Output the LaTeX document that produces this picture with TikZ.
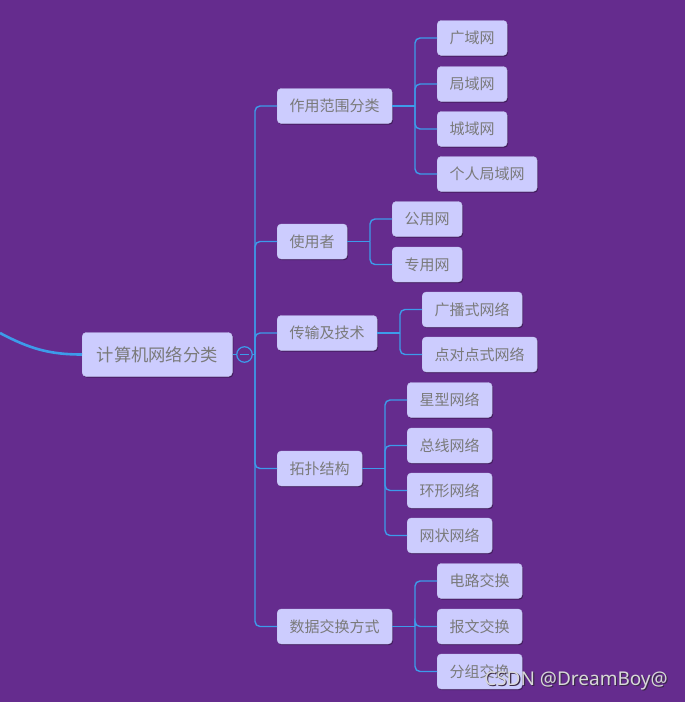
\documentclass[tikz,border=0pt]{standalone}
\usepackage{fontspec}
\newfontfamily\cjk{Noto Sans CJK SC}
\newfontfamily\marksans{Noto Sans}
\usepackage{xcolor}
\usepackage{tikz}
\usetikzlibrary{positioning, shadows, calc}
\definecolor{mapbg}{HTML}{652C8E}
\definecolor{topicfill}{HTML}{CCCCFE}
\definecolor{topictext}{HTML}{7A7A7A}
\definecolor{linkblue}{HTML}{3D9BEA}
\definecolor{markgray}{HTML}{D8D8D8}
\definecolor{markshade}{HTML}{3A2A48}
\newcommand{\shadedmark}[1]{\makebox[0pt][l]{\kern1.2pt\raisebox{-1.2pt}{\textcolor{markshade}{#1}}}#1}

\begin{document}
\begin{tikzpicture}[x=1pt, y=-1pt,
    topic/.style={draw=topicfill!85!gray, fill=topicfill, rounded corners=4pt,
                  text=topictext, anchor=west, inner xsep=12.5pt, inner ysep=0pt,
                  minimum height=35pt, font=\cjk\fontsize{15}{18}\selectfont,
                  drop shadow={shadow xshift=1pt, shadow yshift=-1.2pt, fill=black, opacity=0.35}},
    root/.style={topic, inner xsep=14.5pt, minimum height=44pt,
                 font=\cjk\fontsize{17.3}{20}\selectfont},
    link/.style={draw=linkblue, line width=1.4pt, rounded corners=5pt},
    mainlink/.style={draw=linkblue, line width=2.6pt},
    fold/.style={draw=linkblue, line width=1.2pt, fill=mapbg, circle, minimum size=15.5pt, inner sep=0pt},
]
% canvas
\fill[mapbg] (0,0) rectangle (685,702);
\useasboundingbox (0,0) rectangle (685,702);

% Root and the fold button
\node[root] (root) at (82,354.5) {计算机网络分类};
\node[fold] (fold) at (244.5,354.5) {};
\draw[linkblue, line width=1.2pt] ($(fold.center)+(-4.5,0)$) -- ($(fold.center)+(4.5,0)$);
\coordinate (outer) at (0,333);
\draw[mainlink] (outer) .. controls (30,349) and (50,354.5) .. (root.west);
\draw[link] (root.east) -- (fold.west);

% First level
\node[topic] (scope) at (277,106) {作用范围分类};
\node[topic] (users) at (277,241.5) {使用者};
\node[topic] (trans) at (277,333) {传输及技术};
\node[topic] (topo)  at (277,468.5) {拓扑结构};
\node[topic] (swit)  at (277,626.5) {数据交换方式};

\coordinate (trunk) at (255,354.5);
\draw[link] (fold.east) -- (trunk);
\foreach \t in {scope, users, trans, topo, swit}
  \draw[link] (trunk) |- (\t.west);

% Second level: scope
\node[topic] (wan) at (437,38)  {广域网};
\node[topic] (lan) at (437,84)  {局域网};
\node[topic] (man) at (437,129) {城域网};
\node[topic] (pan) at (437,174) {个人局域网};
\coordinate (bscope) at (415,106);
\draw[link] (scope.east) -- (bscope);
\foreach \c in {wan, lan, man, pan}
  \draw[link] (bscope) |- (\c.west);

% users
\node[topic] (pub) at (392,219)   {公用网};
\node[topic] (prv) at (392,264.5) {专用网};
\coordinate (busers) at (370,241.5);
\draw[link] (users.east) -- (busers);
\foreach \c in {pub, prv}
  \draw[link] (busers) |- (\c.west);

% transmission
\node[topic] (bcast) at (422,309.5) {广播式网络};
\node[topic] (p2p)   at (422,354.5) {点对点式网络};
\coordinate (btrans) at (400,333);
\draw[link] (trans.east) -- (btrans);
\foreach \c in {bcast, p2p}
  \draw[link] (btrans) |- (\c.west);

% topology
\node[topic] (star) at (407,400)   {星型网络};
\node[topic] (bus)  at (407,445.5) {总线网络};
\node[topic] (ring) at (407,490.5) {环形网络};
\node[topic] (mesh) at (407,535.5) {网状网络};
\coordinate (btopo) at (385,468.5);
\draw[link] (topo.east) -- (btopo);
\foreach \c in {star, bus, ring, mesh}
  \draw[link] (btopo) |- (\c.west);

% switching
\node[topic] (circ) at (437,581)   {电路交换};
\node[topic] (msg)  at (437,626.5) {报文交换};
\node[topic] (pkt)  at (437,671.5) {分组交换};
\coordinate (bswit) at (415,626.5);
\draw[link] (swit.east) -- (bswit);
\foreach \c in {circ, msg, pkt}
  \draw[link] (bswit) |- (\c.west);

% watermark
\node[font=\marksans\fontsize{19}{22}\selectfont, text=markgray] (mark) at (576,681) {\shadedmark{CSDN @DreamBoy@}};
\end{tikzpicture}
\end{document}
